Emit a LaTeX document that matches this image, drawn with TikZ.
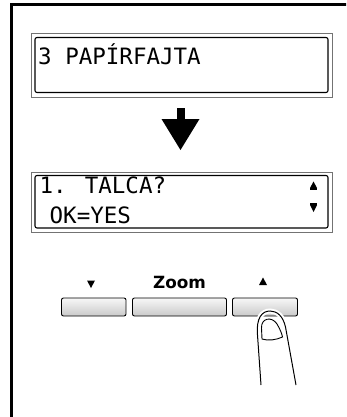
\documentclass[tikz,border=0pt]{standalone}
\usepackage{fontspec}
\newfontfamily\lcdfont{DejaVu Sans Mono}
\newfontfamily\keyfont{DejaVu Sans}
\begin{document}
\begin{tikzpicture}[x=1pt,y=-1pt,
  frameline/.style={line width=2.5pt},
  lcdouter/.style={draw=black!55,line width=0.8pt},
  lcdinner/.style={draw=black,line width=1.1pt,rounded corners=2pt},
  lcdtext/.style={font=\lcdfont\fontsize{22.5}{22.5}\selectfont,inner sep=0pt,anchor=base west},
  keybox/.style={draw=black,line width=0.9pt,rounded corners=2pt,top color=gray!6,bottom color=gray!42},
  keylabel/.style={font=\keyfont\bfseries\fontsize{16.8}{16.8}\selectfont,inner sep=0pt,anchor=base}]
\useasboundingbox (0,0) rectangle (346,417);
\clip (0,0) rectangle (346,417);
% outer frame
\draw[frameline] (11.5,425) -- (11.5,4.5) -- (352,4.5);
% first display
\draw[lcdouter] (31,33) rectangle (332,97);
\draw[lcdinner] (35,37.5) rectangle (328,92.5);
\node[lcdtext] (l1) at (38,65) {3 PAPÍRFAJTA};
% block arrow between the displays
\fill (176.5,108) rectangle (184.5,120);
\fill (161.5,119) -- (199.5,119) -- (180.5,150) -- cycle;
% second display
\draw[lcdouter] (31,172) rectangle (332,232);
\draw[lcdinner] (35,175.5) rectangle (328,228);
\node[lcdtext] (l2) at (39.5,193.5) {1. TALCA?};
\node[lcdtext] (l3) at (49.5,223) {OK=YES};
% scroll marks
\fill (313.5,181.5) -- (317,188) -- (310,188) -- cycle;
\fill (310,188) rectangle (317,190);
\fill (310,203) rectangle (317,205);
\fill (310,205) -- (317,205) -- (313.5,212) -- cycle;
% keys
\draw[keybox] (61.5,298) rectangle (126,316);
\draw[keybox] (132.5,298) rectangle (226.5,316);
\draw[keybox] (232.5,298) rectangle (297.5,316);
\fill (87,280.5) -- (95,280.5) -- (91,288) -- cycle;
\node[keylabel] (zoom) at (179.5,288) {Zoom};
\fill (263,277.5) -- (267,285) -- (259,285) -- cycle;
% finger pressing the right key
\def\fingerpath{(261,385) -- (257.5,335) .. controls (256,318) and (262,311) .. (270,311) .. controls (277,311) and (283,316) .. (285.5,327) -- (296,385)}
\draw[white,line width=5pt] \fingerpath;
\fill[white] (259,330) rectangle (284,340);
\draw[black,line width=1pt] \fingerpath;
\draw[black,line width=0.9pt] (262,339) -- (261.5,328) .. controls (261,318) and (272,316) .. (277,324) .. controls (280,329) and (282,334) .. (282.5,337) .. controls (276,340) and (268,341) .. (262,339) -- cycle;
\end{tikzpicture}
\end{document}
